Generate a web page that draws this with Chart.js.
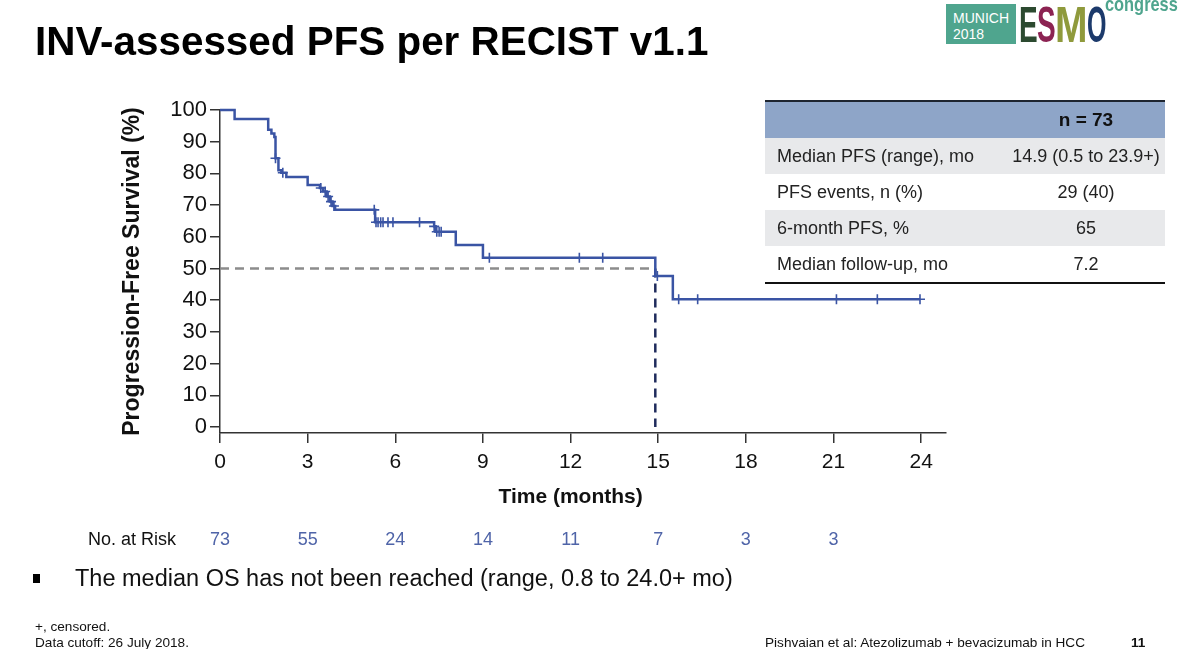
<!DOCTYPE html>
<html>
<head>
<meta charset="utf-8">
<script src="https://cdn.jsdelivr.net/npm/chart.js@4.4.1/dist/chart.umd.min.js"></script>
<style>
    html, body { margin: 0; padding: 0; background: #fff; }
    body { width: 1200px; height: 649px; position: relative; overflow: hidden; font-family: "Liberation Sans", Arial, sans-serif; color: #111; }
    #chart-wrap { position: absolute; left: 0; top: 0; width: 1200px; height: 649px; }
    .abs { position: absolute; white-space: nowrap; }
    #title { left: 35px; top: 18px; font-size: 40.4px; font-weight: bold; color: #000; }
    #stats { position: absolute; left: 765px; top: 100px; width: 400px; border-collapse: collapse; font-size: 18px; color: #222; }
    #stats td { padding: 0; height: 36px; }
    #stats td.lab { padding-left: 12px; width: 230px; }
    #stats td.val { text-align: center; }
    #stats tr.head td { background: #8ea5c8; border-top: 2px solid #1e2530; font-weight: bold; font-size: 19px; color: #111; }
    #stats tr.grey td { background: #e8e9eb; }
    #stats tr.last td { border-bottom: 2px solid #111; }
    #bullet { left: 75px; top: 565px; font-size: 23.5px; }
    #bullet-mark { position: absolute; left: 33px; top: 574px; width: 7px; height: 9px; background: #000; }
    .foot { font-size: 13.6px; color: #111; }
    .logo-box { position: absolute; left: 946px; top: 4px; width: 70px; height: 40px; background: #4fa58e; }
    .logo-box span { position: absolute; left: 7px; color: #fff; font-size: 14px; line-height: 14px; }
    .logo-letter { position: absolute; top: 0px; font-weight: bold; font-size: 50px; line-height: 50px; transform-origin: left top; }
</style>
</head>
<body>
<div id="chart-wrap"><canvas id="pfsChart" width="1200" height="649"></canvas></div>

<div id="title" class="abs">INV-assessed PFS per RECIST v1.1</div>

<!-- logo -->
<div class="logo-box"><span style="top:7px;">MUNICH</span><span style="top:23px;">2018</span></div>
<div class="logo-letter" style="left:1019px;color:#2c4a30;transform:scaleX(0.56);">E</div>
<div class="logo-letter" style="left:1037px;color:#8c2352;transform:scaleX(0.56);">S</div>
<div class="logo-letter" style="left:1055px;color:#8f9a3c;transform:scaleX(0.78);">M</div>
<div class="logo-letter" style="left:1087px;color:#1c3a6b;transform:scaleX(0.5);">O</div>
<div class="abs" style="left:1105px;top:-8px;font-weight:bold;font-size:21px;color:#4fa58e;transform:scaleX(0.78);transform-origin:left top;">congress</div>

<table id="stats">
    <tr class="head"><td class="lab"></td><td class="val">n = 73</td></tr>
    <tr class="grey"><td class="lab">Median PFS (range), mo</td><td class="val">14.9 (0.5 to 23.9+)</td></tr>
    <tr><td class="lab">PFS events, n (%)</td><td class="val">29 (40)</td></tr>
    <tr class="grey"><td class="lab">6-month PFS, %</td><td class="val">65</td></tr>
    <tr class="last"><td class="lab">Median follow-up, mo</td><td class="val">7.2</td></tr>
</table>

<div id="bullet-mark"></div>
<div id="bullet" class="abs">The median OS has not been reached (range, 0.8 to 24.0+ mo)</div>

<div class="abs foot" style="left:35px;top:619px;">+, censored.</div>
<div class="abs foot" style="left:35px;top:635px;">Data cutoff: 26 July 2018.</div>
<div class="abs foot" style="left:765px;top:635px;">Pishvaian et al: Atezolizumab + bevacizumab in HCC</div>
<div class="abs foot" style="left:1131px;top:635px;font-weight:bold;">11</div>

<script>
// KM step points (months, % progression-free)
const eventTimes = [0, 0.5, 1.65, 1.76, 1.86, 1.9, 2.0, 2.1, 2.27, 3.0, 3.42, 3.53, 3.65, 3.76, 3.85, 3.94, 5.31, 7.33, 7.38, 8.07, 9.0, 14.9, 15.5, 23.96];
const eventSurv  = [100, 97.2, 93.8, 92.6, 91.5, 84.8, 81.0, 80.2, 78.9, 76.3, 75.4, 74.3, 72.7, 71.1, 69.7, 68.5, 64.6, 63.3, 61.6, 57.4, 53.4, 47.6, 40.3, 40.3];

// censor marks (+)
const censorTimes = [1.9, 2.15, 3.45, 3.6, 3.7, 3.8, 3.9, 5.28, 5.34, 5.41, 5.5, 5.58, 5.75, 5.92, 6.83, 7.33, 7.42, 7.5, 7.57, 9.22, 12.3, 13.1, 14.97, 15.7, 16.35, 21.1, 22.5, 23.96];

const medianPFS = 14.9;
const xTicks = [0, 3, 6, 9, 12, 15, 18, 21, 24];
const yTicks = [0, 10, 20, 30, 40, 50, 60, 70, 80, 90, 100];
const riskTimes = [0, 3, 6, 9, 12, 15, 18, 21];
const riskCounts = [73, 55, 24, 14, 11, 7, 3, 3];

const curveBlue = '#3a54a4';
const fontFam = '"Liberation Sans", Arial, sans-serif';

// level of the curve at a given time (last step at or before t)
function survAt(t) {
    let s = eventSurv[0];
    for (let i = 0; i < eventTimes.length; i++) {
        if (eventTimes[i] <= t) s = eventSurv[i];
    }
    return s;
}

const curvePts = eventTimes.map((t, i) => ({ x: t, y: eventSurv[i] }));
const censorPts = censorTimes.map(t => ({ x: t, y: survAt(t) }));

// x title + risk table below the axis, aligned on the x scale
const riskTablePlugin = {
    id: 'riskTable',
    afterDraw(chart) {
        const ctx = chart.ctx;
        const xs = chart.scales.x;
        ctx.save();
        ctx.textBaseline = 'middle';
        ctx.fillStyle = '#111';
        ctx.font = 'bold 21px ' + fontFam;
        ctx.textAlign = 'center';
        ctx.fillText('Time (months)', xs.getPixelForValue(12), 497);

        ctx.font = '18px ' + fontFam;
        ctx.textAlign = 'left';
        ctx.fillText('No. at Risk', 88, 540);
        ctx.fillStyle = '#4f64a8';
        ctx.textAlign = 'center';
        riskTimes.forEach((t, i) => {
            ctx.fillText(String(riskCounts[i]), xs.getPixelForValue(t), 540);
        });
        ctx.restore();
    }
};

const ctx = document.getElementById('pfsChart').getContext('2d');
new Chart(ctx, {
    type: 'line',
    data: {
        datasets: [
            {
                label: 'PFS',
                data: curvePts,
                stepped: true,
                borderColor: curveBlue,
                borderWidth: 2.5,
                pointRadius: 0,
                fill: false,
                clip: false,
                order: 0
            },
            {
                label: 'Censored',
                data: censorPts,
                showLine: false,
                pointStyle: 'cross',
                pointRadius: 5,
                borderColor: curveBlue,
                borderWidth: 1.6,
                clip: false,
                order: 0
            },
            {
                label: 'Median (h)',
                data: [{ x: 0, y: 50 }, { x: medianPFS, y: 50 }],
                borderColor: '#8c8c8c',
                borderWidth: 2.5,
                borderDash: [9, 6],
                pointRadius: 0,
                order: 2
            },
            {
                label: 'Median (v)',
                data: [{ x: medianPFS, y: 50 }, { x: medianPFS, y: 0 }],
                borderColor: '#1f2b5c',
                borderWidth: 2.5,
                borderDash: [9, 6],
                pointRadius: 0,
                order: 2
            }
        ]
    },
    options: {
        responsive: false,
        animation: false,
        events: [],
        layout: { padding: { left: 118, top: 110, right: 254, bottom: 136 } },
        plugins: { legend: { display: false }, tooltip: { enabled: false } },
        scales: {
            x: {
                type: 'linear',
                min: 0,
                max: 24.85,
                afterBuildTicks: s => { s.ticks = xTicks.map(v => ({ value: v })); },
                afterFit: s => { s.height = 80; },
                grid: { drawOnChartArea: false, tickLength: 10, color: '#333', lineWidth: 1.5 },
                border: { display: true, color: '#333', width: 1.5 },
                ticks: { color: '#111', padding: 7, font: { family: fontFam, size: 21 } }
            },
            y: {
                min: -1.9,
                max: 100,
                afterBuildTicks: s => { s.ticks = yTicks.map(v => ({ value: v })); },
                afterFit: s => { s.width = 102; },
                grid: { drawOnChartArea: false, tickLength: 10, color: '#333', lineWidth: 1.5 },
                border: { display: true, color: '#333', width: 1.5 },
                ticks: { color: '#111', padding: 3, font: { family: fontFam, size: 22 } },
                title: { display: true, text: 'Progression-Free Survival (%)', color: '#111', padding: { top: 1 }, font: { family: fontFam, size: 23, weight: 'bold' } }
            }
        }
    },
    plugins: [riskTablePlugin]
});
</script>
</body>
</html>
